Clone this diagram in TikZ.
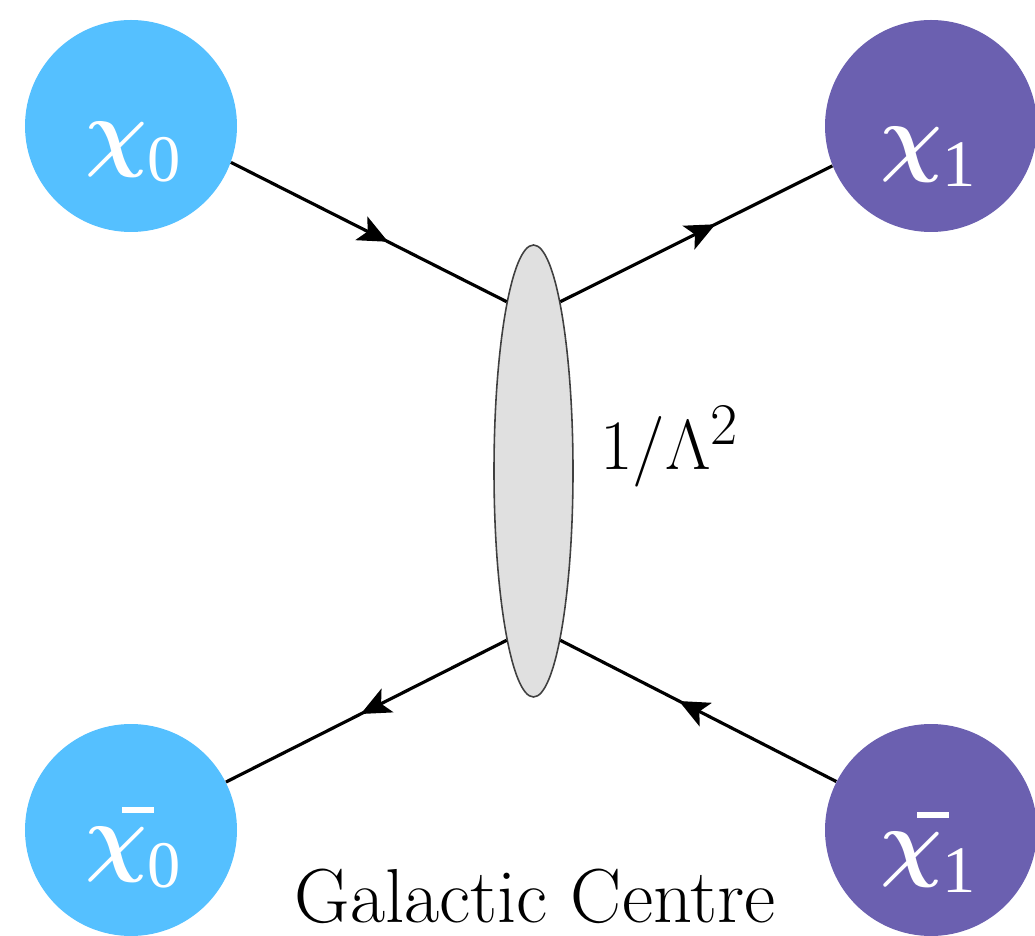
\documentclass[tikz,border=0pt]{standalone}
\usepackage{fontspec}
\usepackage{bm}
\usetikzlibrary{arrows.meta, positioning, shapes.geometric, calc, decorations.markings}

\newfontfamily\partfont{Liberation Serif}
\definecolor{dmblue}{HTML}{55C0FF}
\definecolor{dmpurple}{HTML}{6B60B0}
\definecolor{blobgray}{HTML}{E0E0E0}

\newcommand{\partchi}{\raisebox{0.33em}{\scalebox{1.3}{$\bm{\chi}$}}}
\newcommand{\barchi}{\partchi\llap{\rule[1.11em]{0.47em}{0.09em}\hspace{-0.09em}}}

\begin{document}
\begin{tikzpicture}[
    particle/.style={circle, minimum size=4.24cm, inner sep=0pt},
    partlabel/.style={anchor=base west, text=white, inner sep=0pt, font=\Huge, scale=1.52},
    fermion/.style={line width=1.8pt, postaction={decorate},
      decoration={markings, mark=at position #1 with {\arrow{Stealth[length=17pt, width=15pt, inset=4pt]}}}},
    fermion/.default=0.57
  ]
    \useasboundingbox (0,0) rectangle (20.7,18.7);

    % contact interaction
    \node[ellipse, draw=black!75, line width=0.9pt, fill=blobgray, minimum width=1.58cm, minimum height=9.04cm, inner sep=0pt] (blob) at (10.67,9.28) {};
    \node[anchor=base west, inner sep=0pt, font=\Huge, scale=1.62] (coupling) at ([xshift=0.52cm, yshift=0.02cm]blob.east) {$1/\Lambda^2$};

    % dark matter states
    \node[particle, fill=dmblue] (x0) at (2.62,16.18) {};
    \node[particle, fill=dmpurple] (x1) at (18.62,16.18) {};
    \node[particle, fill=dmblue] (x0bar) at (2.62,2.10) {};
    \node[particle, fill=dmpurple] (x1bar) at (18.62,2.10) {};

    \node[partlabel] (x0lab) at ($(x0)+(-0.92,-1.12)$) {\partchi{\partfont 0}};
    \node[partlabel] (x1lab) at ($(x1)+(-1.02,-1.22)$) {\partchi{\partfont 1}};
    \node[partlabel] (x0barlab) at ($(x0bar)+(-0.92,-1.14)$) {\barchi{\partfont 0}};
    \node[partlabel] (x1barlab) at ($(x1bar)+(-1.02,-1.24)$) {\barchi{\partfont 1}};

    \draw[fermion] (x0.-20) -- (blob.99);
    \draw[fermion] (blob.81) -- (x1.-158);
    \draw[fermion=0.52] (blob.-99) -- (x0bar);
    \draw[fermion] (x1bar) -- (blob.-81);

    \node[anchor=base, inner sep=0pt, font=\Huge, scale=1.75] (gc) at (10.7,0.26) {Galactic Centre};
  \end{tikzpicture}
\end{document}
